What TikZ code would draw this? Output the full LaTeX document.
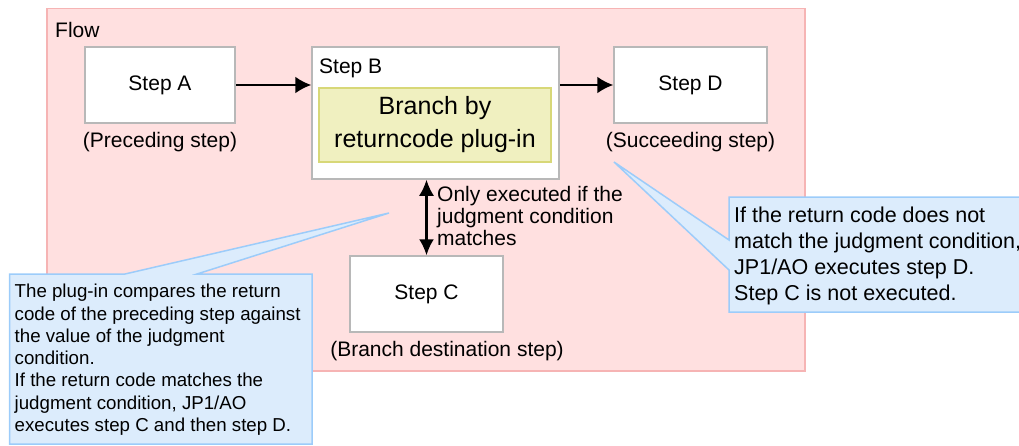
\documentclass[tikz,border=0pt]{standalone}
\usepackage{fontspec}
\setmainfont{Liberation Sans}
\usetikzlibrary{arrows.meta}
\definecolor{flowfill}{RGB}{255,224,224}
\definecolor{flowline}{RGB}{246,180,180}
\definecolor{boxline}{RGB}{184,184,184}
\definecolor{plugfill}{RGB}{240,240,192}
\definecolor{plugline}{RGB}{216,216,120}
\definecolor{notefill}{RGB}{220,236,252}
\definecolor{noteline}{RGB}{156,204,250}
\tikzset{
  stepbox/.style={draw=boxline, line width=1.5pt, fill=white, font=\fontsize{21}{25}\selectfont, inner sep=0pt},
  lbl/.style={font=\fontsize{21}{25}\selectfont, inner sep=0pt},
  plugbox/.style={draw=plugline, line width=1.5pt, fill=plugfill, font=\fontsize{25}{33}\selectfont, align=center, inner sep=0pt},
  note/.style={draw=noteline, line width=1.5pt, fill=notefill, line join=miter},
  notetext/.style={inner sep=0pt, align=left, anchor=north west},
  flowarrow/.style={line width=2.2pt, -{Latex[length=16pt,width=17pt]}},
  bothways/.style={line width=2.2pt, {Latex[length=16pt,width=15pt]}-{Latex[length=16pt,width=15pt]}}
}
\begin{document}
\begin{tikzpicture}[x=1pt,y=-1pt]
\useasboundingbox (0,0) rectangle (1019,445);
% flow area
\draw[draw=flowline, fill=flowfill, line width=1.5pt] (47,8.5) rectangle (805,371);
\node[lbl, anchor=west] (flow) at (55,30) {Flow};
% steps
\node[stepbox, minimum width=150pt, minimum height=76pt] (A) at (160,85) {Step A};
\node[lbl] (Alab) at (160,142) {(Preceding step)};
\node[stepbox, minimum width=247pt, minimum height=132pt] (B) at (435.5,113) {};
\node[lbl, anchor=west] (Blab) at (319,68) {Step B};
\node[plugbox, minimum width=232pt, minimum height=74pt] (P) at (435,125) {Branch by\\returncode plug-in};
\node[stepbox, minimum width=153pt, minimum height=76pt] (D) at (690.5,85) {Step D};
\node[lbl] (Dlab) at (690.5,142) {(Succeeding step)};
\node[stepbox, minimum width=153pt, minimum height=76pt] (C) at (426.5,294) {Step C};
\node[lbl] (Clab) at (447,351) {(Branch destination step)};
% connectors
\draw[flowarrow] (A.east) -- (B.west |- A.east);
\draw[flowarrow] (B.east |- D.west) -- (D.west);
\draw[bothways] (B.south -| C.north) -- (C.north);
\node[notetext, font=\fontsize{21}{21.8}\selectfont] (cond) at (437,186) {Only executed if the\\judgment condition\\matches};
% left callout
\coordinate (ltip) at (389,213);
\draw[note] (9.5,274) -- (125,274) -- (ltip) -- (197,274) -- (312,274) -- (312,444) -- (9.5,444) -- cycle;
\node[notetext, font=\fontsize{18.7}{22.3}\selectfont] (lnote) at (14.5,284) {The plug-in compares the return\\code of the preceding step against\\the value of the judgment\\condition.\\If the return code matches the\\judgment condition, JP1/AO\\executes step C and then step D.};
% right callout
\coordinate (rtip) at (614,162);
\draw[note] (729,197) -- (1020,197) -- (1020,312) -- (729,312) -- (729,270) -- (rtip) -- (729,240) -- cycle;
\node[notetext, font=\fontsize{21.5}{26}\selectfont] (rnote) at (734,207) {If the return code does not\\match the judgment condition,\\JP1/AO executes step D.\\Step C is not executed.};
\end{tikzpicture}
\end{document}
